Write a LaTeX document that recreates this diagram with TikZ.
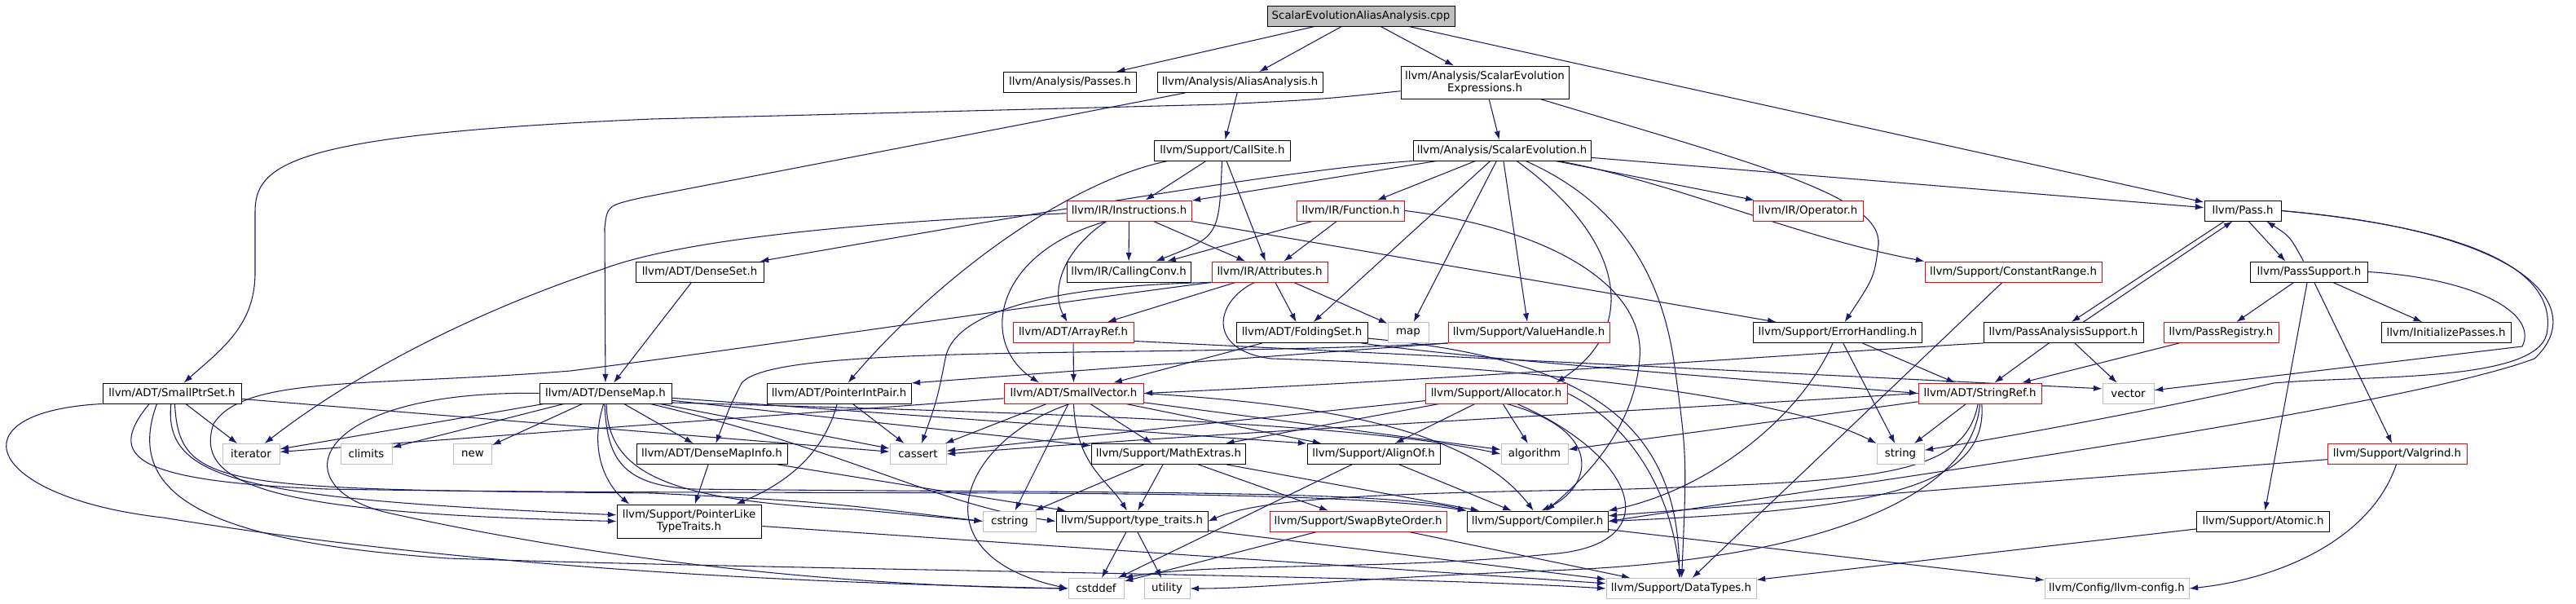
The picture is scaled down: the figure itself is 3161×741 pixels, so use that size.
\documentclass[tikz,border=0pt]{standalone}
\usepackage{fontspec}
\setmainfont{DejaVu Sans}
\usepackage{xcolor}
\usepackage{tikz}
\usetikzlibrary{arrows.meta}
\usetikzlibrary{backgrounds}
\definecolor{edgeblue}{HTML}{191970}
\definecolor{boxgray}{HTML}{BFBFBF}

\begin{document}
\begin{tikzpicture}[x=0.75pt,y=-0.75pt,
  every node/.style={font=\fontsize{10pt}{11.25pt}\selectfont,inner sep=0pt,align=center},
  bw/.style={minimum width=#1*0.75pt},
  bh/.style={minimum height=#1*0.75pt},
  hdr/.style={draw=black,fill=white,line width=0.7pt,bw=100,bh=25},
  redhdr/.style={hdr,draw=red},
  sysinc/.style={hdr,draw=boxgray},
  edge/.style={draw=edgeblue,line width=0.8pt,-{Latex[length=8pt,width=5.5pt]}}]
  \useasboundingbox (0,0) rectangle (3161,741);

  \node[hdr,fill=boxgray,bw=230] (seaa) at (1670,19.5) {ScalarEvolutionAliasAnalysis.cpp};
  \node[hdr,bw=163] (passes) at (1313,101) {llvm/Analysis/Passes.h};
  \node[hdr,bw=203] (aa) at (1521.5,101) {llvm/Analysis/AliasAnalysis.h};
  \node[hdr,bw=206,bh=40] (see) at (1822,101) {llvm/Analysis/ScalarEvolution\\Expressions.h};
  \node[hdr,bw=167] (callsite) at (1500,184.5) {llvm/Support/CallSite.h};
  \node[hdr,bw=218] (se) at (1843,184.5) {llvm/Analysis/ScalarEvolution.h};
  \node[redhdr,bw=153] (instr) at (1385.5,258.5) {llvm/IR/Instructions.h};
  \node[redhdr,bw=132] (func) at (1657.5,258.5) {llvm/IR/Function.h};
  \node[redhdr,bw=135] (oper) at (2218.5,258.5) {llvm/IR/Operator.h};
  \node[hdr,bw=94] (pass) at (2752,258.5) {llvm/Pass.h};
  \node[hdr,bw=157] (denseset) at (858.5,333.5) {llvm/ADT/DenseSet.h};
  \node[hdr,bw=152] (callconv) at (1385,333.5) {llvm/IR/CallingConv.h};
  \node[redhdr,bw=142] (attr) at (1558,333.5) {llvm/IR/Attributes.h};
  \node[redhdr,bw=217] (crange) at (2470.5,333.5) {llvm/Support/ConstantRange.h};
  \node[hdr,bw=144] (passsup) at (2833.5,333.5) {llvm/PassSupport.h};
  \node[redhdr,bw=148] (arrayref) at (1317,408) {llvm/ADT/ArrayRef.h};
  \node[hdr,bw=161] (folding) at (1597.5,408) {llvm/ADT/FoldingSet.h};
  \node[sysinc,bw=50] (map) at (1728,408) {map};
  \node[redhdr,bw=198] (vhandle) at (1876,408) {llvm/Support/ValueHandle.h};
  \node[hdr,bw=207] (errh) at (2255,408) {llvm/Support/ErrorHandling.h};
  \node[hdr,bw=196] (pas) at (2532,408) {llvm/PassAnalysisSupport.h};
  \node[redhdr,bw=141] (preg) at (2725.5,408) {llvm/PassRegistry.h};
  \node[hdr,bw=159] (initp) at (3001.5,408) {llvm/InitializePasses.h};
  \node[hdr,bw=170] (smallptr) at (211,482.5) {llvm/ADT/SmallPtrSet.h};
  \node[hdr,bw=162] (densemap) at (743,482.5) {llvm/ADT/DenseMap.h};
  \node[hdr,bw=177] (pip) at (1029.5,482.5) {llvm/ADT/PointerIntPair.h};
  \node[redhdr,bw=171] (smallvec) at (1317.5,482.5) {llvm/ADT/SmallVector.h};
  \node[redhdr,bw=174] (alloc) at (1836,482.5) {llvm/Support/Allocator.h};
  \node[redhdr,bw=151] (stringref) at (2429.5,482.5) {llvm/ADT/StringRef.h};
  \node[sysinc,bw=63] (vector) at (2611.5,482.5) {vector};
  \node[sysinc,bw=70] (iterator) at (308,557) {iterator};
  \node[sysinc,bw=63] (climits) at (449.5,557) {climits};
  \node[sysinc,bw=47] (new) at (580,557) {new};
  \node[hdr,bw=185] (dmi) at (873.5,557) {llvm/ADT/DenseMapInfo.h};
  \node[sysinc,bw=69] (cassert) at (1126.5,557) {cassert};
  \node[hdr,bw=189] (mathx) at (1434,557) {llvm/Support/MathExtras.h};
  \node[hdr,bw=163] (alignof) at (1685.5,557) {llvm/Support/AlignOf.h};
  \node[sysinc,bw=82] (algorithm) at (1883,557) {algorithm};
  \node[sysinc,bw=58] (string) at (2332,557) {string};
  \node[redhdr,bw=171] (valgrind) at (2941.5,557) {llvm/Support/Valgrind.h};
  \node[hdr,bw=177,bh=41] (plt) at (845.5,639.5) {llvm/Support/PointerLike\\TypeTraits.h};
  \node[sysinc,bw=65] (cstring) at (1239,639.5) {cstring};
  \node[hdr,bw=186] (typetraits) at (1389,639.5) {llvm/Support/type\_traits.h};
  \node[redhdr,bw=217] (swap) at (1666.5,639.5) {llvm/Support/SwapByteOrder.h};
  \node[hdr,bw=173] (compiler) at (1886.5,639.5) {llvm/Support/Compiler.h};
  \node[hdr,bw=163] (atomic) at (2777,639.5) {llvm/Support/Atomic.h};
  \node[sysinc,bw=68] (cstddef) at (1345,722) {cstddef};
  \node[sysinc,bw=56] (utility) at (1432,722) {utility};
  \node[sysinc,bw=184] (datatypes) at (2063,722) {llvm/Support/DataTypes.h};
  \node[sysinc,bw=177] (llvmconfig) at (2597.5,722) {llvm/Config/llvm-config.h};

  \begin{scope}[on background layer]
  \draw[edge] (seaa) -- (passes);
  \draw[edge] (seaa) -- (aa);
  \draw[edge] (seaa) -- (see);
  \draw[edge] (seaa) -- (pass);
  \draw[edge] (aa) -- (790,242) .. controls (745,252) .. (742,280) -- (densemap);
  \draw[edge] (aa) -- (callsite);
  \draw[edge] (see) -- (se);
  \draw[edge] (see) .. controls (1620,122) .. (1500,128) -- (800,146) .. controls (360,165) and (313,200) .. (313,260) -- (313,335) .. controls (313,400) and (270,430) .. (smallptr);
  \draw[edge] (see) .. controls (2150,200) and (2310,240) .. (2305,300) .. controls (2300,340) .. (errh);
  \draw[edge] (callsite) -- (instr);
  \draw[edge] (callsite) .. controls (1496,290) .. (callconv);
  \draw[edge] (callsite) -- (attr);
  \draw[edge] (callsite.191) .. controls (1320,220) and (1160,330) .. (pip);
  \draw[edge] (se) -- (instr);
  \draw[edge] (se.south west) .. controls (1580,208) and (1250,265) .. (denseset);
  \draw[edge] (se) -- (func);
  \draw[edge] (se) -- (folding);
  \draw[edge] (se) -- (map);
  \draw[edge] (se) -- (vhandle);
  \draw[edge] (se) .. controls (1990,290) and (2015,400) .. (alloc.10);
  \draw[edge] (se) .. controls (1990,250) and (2040,340) .. (2055,450) .. controls (2070,560) .. (datatypes);
  \draw[edge] (se) .. controls (2060,225) and (2200,290) .. (crange.north west);
  \draw[edge] (se) -- (oper);
  \draw[edge] (se) -- (pass);
  \draw[edge] (instr.205) .. controls (1300,310) and (1290,360) .. (arrayref);
  \draw[edge] (instr.205) .. controls (1220,310) and (1200,420) .. (smallvec.163);
  \draw[edge] (instr) -- (attr);
  \draw[edge] (instr) -- (callconv);
  \draw[edge] (instr) -- (errh);
  \draw[edge] (instr) .. controls (1000,275) and (820,300) .. (740,330) .. controls (560,390) and (420,470) .. (iterator);
  \draw[edge] (func) -- (attr);
  \draw[edge] (func) -- (callconv);
  \draw[edge] (func.east) .. controls (1900,280) and (2020,350) .. (2012,440) .. controls (2005,530) and (1940,590) .. (compiler.50);
  \draw[edge] (pass.-61) -- (passsup.156);
  \draw[edge] (passsup.118) .. controls (2810,290) .. (pass.-24);
  \draw[edge] (pass.210) -- (pas.53);
  \draw[edge] (pas.28) -- (pass.226);
  \draw[edge] (pass.east) .. controls (3030,280) and (3140,330) .. (3125,410) .. controls (3110,470) and (2900,460) .. (2790,470) .. controls (2680,495) and (2500,530) .. (string);
  \draw[edge] (pass.east) .. controls (3110,285) and (3175,380) .. (3110,440) .. controls (2950,500) and (2300,590) .. (compiler.east);
  \draw[edge] (passsup) -- (preg);
  \draw[edge] (passsup) -- (atomic);
  \draw[edge] (passsup) -- (valgrind);
  \draw[edge] (passsup) -- (initp);
  \draw[edge] (passsup.east) .. controls (3040,342) and (3115,385) .. (3095,425) -- (vector);
  \draw[edge] (pas) -- (stringref);
  \draw[edge] (pas) -- (vector);
  \draw[edge] (pas.south west) .. controls (2300,428) and (1800,465) .. (smallvec.east);
  \draw[edge] (preg) -- (stringref);
  \draw[edge] (errh) -- (stringref);
  \draw[edge] (errh) -- (string);
  \draw[edge] (errh.-115) .. controls (2210,510) and (2100,600) .. (compiler.north east);
  \draw[edge] (arrayref) -- (smallvec);
  \draw[edge] (arrayref.-8) -- (vector.170);
  \draw[edge] (attr) -- (arrayref);
  \draw[edge] (attr) -- (folding);
  \draw[edge] (attr) -- (map);
  \draw[edge] (attr.-145) .. controls (1490,370) and (1480,430) .. (1560,440) .. controls (1900,450) and (2200,490) .. (string.north west);
  \draw[edge] (attr.south west) .. controls (1300,350) and (1170,380) .. (1160,440) .. controls (1150,490) .. (cassert);
  \draw[edge] (attr.south west) .. controls (1300,370) and (900,430) .. (700,455) .. controls (450,475) and (300,460) .. (262,520) .. controls (235,600) and (350,630) .. (plt.west);
  \draw[edge] (denseset) -- (densemap);
  \draw[edge] (smallptr) -- (iterator);
  \draw[edge] (smallptr) -- (cassert);
  \draw[edge] (smallptr.-95) .. controls (200,590) and (300,612) .. (plt.175);
  \draw[edge] (smallptr.-75) .. controls (220,600) and (270,600) .. (800,605) .. controls (1000,615) .. (cstring.west);
  \draw[edge] (smallptr.-155) .. controls (130,560) and (160,590) .. (400,600) .. controls (1000,610) and (1600,595) .. (compiler.north west);
  \draw[edge] (smallptr.south west) .. controls (-60,505) and (-20,610) .. (200,635) .. controls (600,700) and (1000,715) .. (cstddef.west);
  \draw[edge] (smallptr.-145) .. controls (150,610) and (260,665) .. (550,685) .. controls (1000,700) and (1700,705) .. (datatypes.west);
  \draw[edge] (densemap) -- (iterator);
  \draw[edge] (densemap) -- (climits);
  \draw[edge] (densemap) -- (new);
  \draw[edge] (densemap) -- (dmi);
  \draw[edge] (densemap) -- (cassert);
  \draw[edge] (densemap) -- (mathx);
  \draw[edge] (densemap) -- (alignof.north west);
  \draw[edge] (densemap.-8) .. controls (1200,505) and (1650,515) .. (algorithm.west);
  \draw[edge] (densemap.-100) .. controls (720,560) and (750,600) .. (plt.164);
  \draw[edge] (densemap.-85) .. controls (745,585) and (830,615) .. (1050,625) -- (cstring.west);
  \draw[edge] (densemap) .. controls (1050,555) and (1150,620) .. (typetraits.west);
  \draw[edge] (densemap.-95) .. controls (745,560) and (760,595) .. (850,600) .. controls (1300,605) and (1700,600) .. (compiler.north west);
  \draw[edge] (densemap.west) .. controls (380,478) and (340,600) .. (480,630) .. controls (800,700) and (1100,720) .. (cstddef.west);
  \draw[edge] (pip.-100) .. controls (1010,560) and (960,595) .. (plt.20);
  \draw[edge] (pip) -- (cassert);
  \draw[edge] (smallvec) -- (cassert);
  \draw[edge] (smallvec) -- (cstring);
  \draw[edge] (smallvec.-90) .. controls (1320,570) and (1360,590) .. (typetraits.115);
  \draw[edge] (smallvec) -- (mathx);
  \draw[edge] (smallvec.-110) .. controls (1180,540) and (1120,680) .. (cstddef.west);
  \draw[edge] (smallvec) -- (iterator);
  \draw[edge] (smallvec) -- (alignof);
  \draw[edge] (smallvec.east) .. controls (1600,495) and (1800,520) .. (compiler.110);
  \draw[edge] (smallvec) -- (algorithm);
  \draw[edge] (alloc) -- (alignof);
  \draw[edge] (alloc) -- (algorithm);
  \draw[edge] (alloc.east) .. controls (2000,520) and (2050,600) .. (datatypes.95);
  \draw[edge] (alloc) -- (mathx);
  \draw[edge] (alloc) -- (cassert);
  \draw[edge] (alloc.-27) .. controls (2010,560) and (2050,670) .. (1900,680) .. controls (1700,700) and (1480,690) .. (cstddef.north east);
  \draw[edge] (alloc.-45) .. controls (1975,530) and (1950,600) .. (compiler.70);
  \draw[edge] (stringref) -- (string);
  \draw[edge] (stringref) -- (algorithm);
  \draw[edge] (stringref.west) .. controls (2000,505) and (1500,530) .. (cassert.east);
  \draw[edge] (stringref.-100) .. controls (2410,585) and (2300,590) .. (2000,600) .. controls (1700,605) and (1550,610) .. (typetraits.east);
  \draw[edge] (stringref.-90) .. controls (2420,620) and (2200,690) .. (1900,700) .. controls (1650,710) and (1550,722) .. (utility.east);
  \draw[edge] (stringref.-80) .. controls (2440,600) and (2300,625) .. (compiler.east);
  \draw[edge] (mathx) -- (cstring);
  \draw[edge] (mathx) -- (typetraits);
  \draw[edge] (mathx) -- (swap);
  \draw[edge] (mathx) -- (compiler);
  \draw[edge] (alignof) -- (compiler);
  \draw[edge] (alignof) -- (cstddef);
  \draw[edge] (dmi) -- (plt);
  \draw[edge] (dmi) -- (typetraits);
  \draw[edge] (typetraits) -- (cstddef);
  \draw[edge] (typetraits) -- (utility);
  \draw[edge] (typetraits) -- (datatypes);
  \draw[edge] (swap) -- (cstddef);
  \draw[edge] (swap) -- (datatypes);
  \draw[edge] (compiler) -- (llvmconfig);
  \draw[edge] (plt) -- (datatypes);
  \draw[edge] (atomic) -- (datatypes);
  \draw[edge] (crange) -- (datatypes);
  \draw[edge] (valgrind) -- (compiler);
  \draw[edge] (valgrind.-95) .. controls (2910,660) and (2800,710) .. (llvmconfig.east);
  \draw[edge] (folding) -- (smallvec);
  \draw[edge] (folding.-10) .. controls (1800,440) and (2200,470) .. (stringref.west);
  \draw[edge] (folding.-5) .. controls (1950,440) and (2060,520) .. (datatypes.100);
  \draw[edge] (vhandle.south west) -- (pip.8);
  \draw[edge] (vhandle.south west) .. controls (1400,440) and (950,420) .. (910,470) .. controls (895,500) .. (dmi);
  \end{scope}
\end{tikzpicture}
\end{document}
